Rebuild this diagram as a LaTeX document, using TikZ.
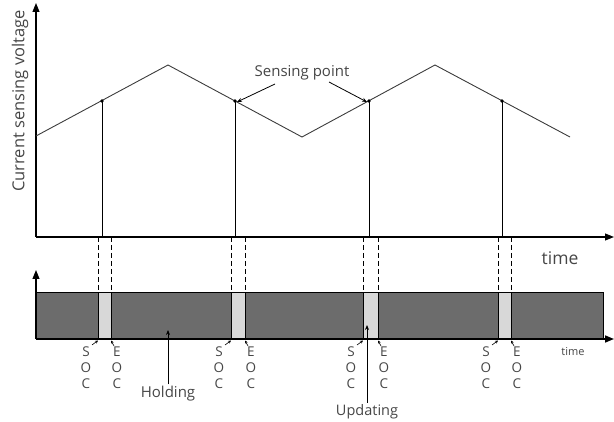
\documentclass[tikz,border=0pt]{standalone}
\usepackage{fontspec}
\setmainfont{Open Sans}
\usetikzlibrary{arrows.meta}
\definecolor{darkbar}{RGB}{108,108,108}
\definecolor{lightbar}{RGB}{216,216,216}
\definecolor{wave}{RGB}{60,60,60}
\definecolor{txt}{RGB}{70,70,70}
\begin{document}
\begin{tikzpicture}[x=1pt,y=-1pt,
  axis/.style={line width=1.1pt,-{Triangle[length=9pt,width=7pt]}},
  waveline/.style={line width=0.9pt,color=wave},
  dropline/.style={line width=0.9pt,black},
  dashline/.style={line width=0.9pt,dash pattern=on 5pt off 3pt},
  lbl/.style={inner sep=0pt,text=txt},
  letters/.style={lbl,font=\fontsize{13.5}{16}\selectfont,align=center},
  tinyarrow/.style={line width=0.6pt,-{Stealth[length=3pt,width=3pt]}},
  ptr/.style={line width=0.8pt,-{Stealth[length=5pt,width=4pt]}}]
\useasboundingbox (0,0) rectangle (614,422);
% top axes
\coordinate (O) at (36,237);
\coordinate (Ytop) at (36,3);
\coordinate (Xend) at (614,237);
\draw[axis] (O) -- (Ytop);
\draw[axis] (O) -- (Xend);
\node[lbl,rotate=90,font=\fontsize{16.5}{18}\selectfont] (ylab) at (20,101) {Current sensing voltage};
\node[lbl,font=\fontsize{17.5}{20}\selectfont] (time1) at (560,258) {time};
% waveform
\coordinate (w0) at (36,136);
\coordinate (w1) at (168,65);
\coordinate (w2) at (302,137);
\coordinate (w3) at (435,65);
\coordinate (w4) at (570,137);
\draw[waveline] (w0) -- (w1) -- (w2) -- (w3) -- (w4);
% sensing points
\foreach \i/\x in {1/102,2/235,3/369,4/502}{
  \coordinate (s\i) at (\x,101);
  \coordinate (b\i) at (\x,237);
  \draw[dropline] (s\i) -- (b\i);
  \fill (s\i) circle (1.8pt);
}
\node[lbl,font=\fontsize{15}{17}\selectfont] (sp) at (302,73) {Sensing point};
\coordinate (spa) at (275,84);
\coordinate (spb) at (329,82);
\draw[ptr] (spa) -- ([xshift=2pt,yshift=-1pt]s2);
\draw[ptr] (spb) -- ([xshift=-2pt,yshift=-1pt]s3);
% bottom bar
\coordinate (BL) at (36,293);
\coordinate (BR) at (603,339);
\fill[darkbar] (BL) rectangle (BR);
\foreach \i/\a/\b in {1/98/111,2/231/245,3/363/378,4/498/511}{
  \fill[lightbar] (\a,293) rectangle (\b,339);
  \draw[line width=1pt] (\a,293) -- (\a,339);
  \draw[line width=1pt] (\b,293) -- (\b,339);
  \coordinate (da\i) at (\a,237);
  \coordinate (db\i) at (\b,237);
  \coordinate (ea\i) at (\a,293);
  \coordinate (eb\i) at (\b,293);
  \draw[dashline] (da\i) -- (ea\i);
  \draw[dashline] (db\i) -- (eb\i);
}
\draw[line width=1pt] (BL) rectangle (BR);
\coordinate (O2) at (36,339);
\coordinate (Y2) at (36,270);
\coordinate (X2) at (614,339);
\draw[axis] (O2) -- (Y2);
\draw[axis,line width=1.6pt] (O2) -- (X2);
\node[lbl,font=\fontsize{11}{13}\selectfont] (time2) at (573,352) {time};
% SOC / EOC labels
\foreach \i/\a/\b in {1/98/111,2/231/245,3/363/378,4/498/511}{
  \node[letters] (soc\i) at (\a-12,368) {S\\O\\C};
  \node[letters] (eoc\i) at (\b+6,368) {E\\O\\C};
  \draw[tinyarrow] (\a-6,345) -- (\a,340.5);
  \draw[tinyarrow] (\b+3,346) -- (\b,340.5);
}
% Holding / Updating
\node[lbl,font=\fontsize{15}{17}\selectfont] (hold) at (168,394) {Holding};
\coordinate (holdt) at (168,330);
\draw[ptr] (hold.north) ++(0,-2) -- (holdt);
\node[lbl,font=\fontsize{14.5}{17}\selectfont] (upd) at (367,412) {Updating};
\coordinate (updt) at (367,325);
\draw[ptr] (upd.north) ++(0,-2) -- (updt);
\end{tikzpicture}
\end{document}
